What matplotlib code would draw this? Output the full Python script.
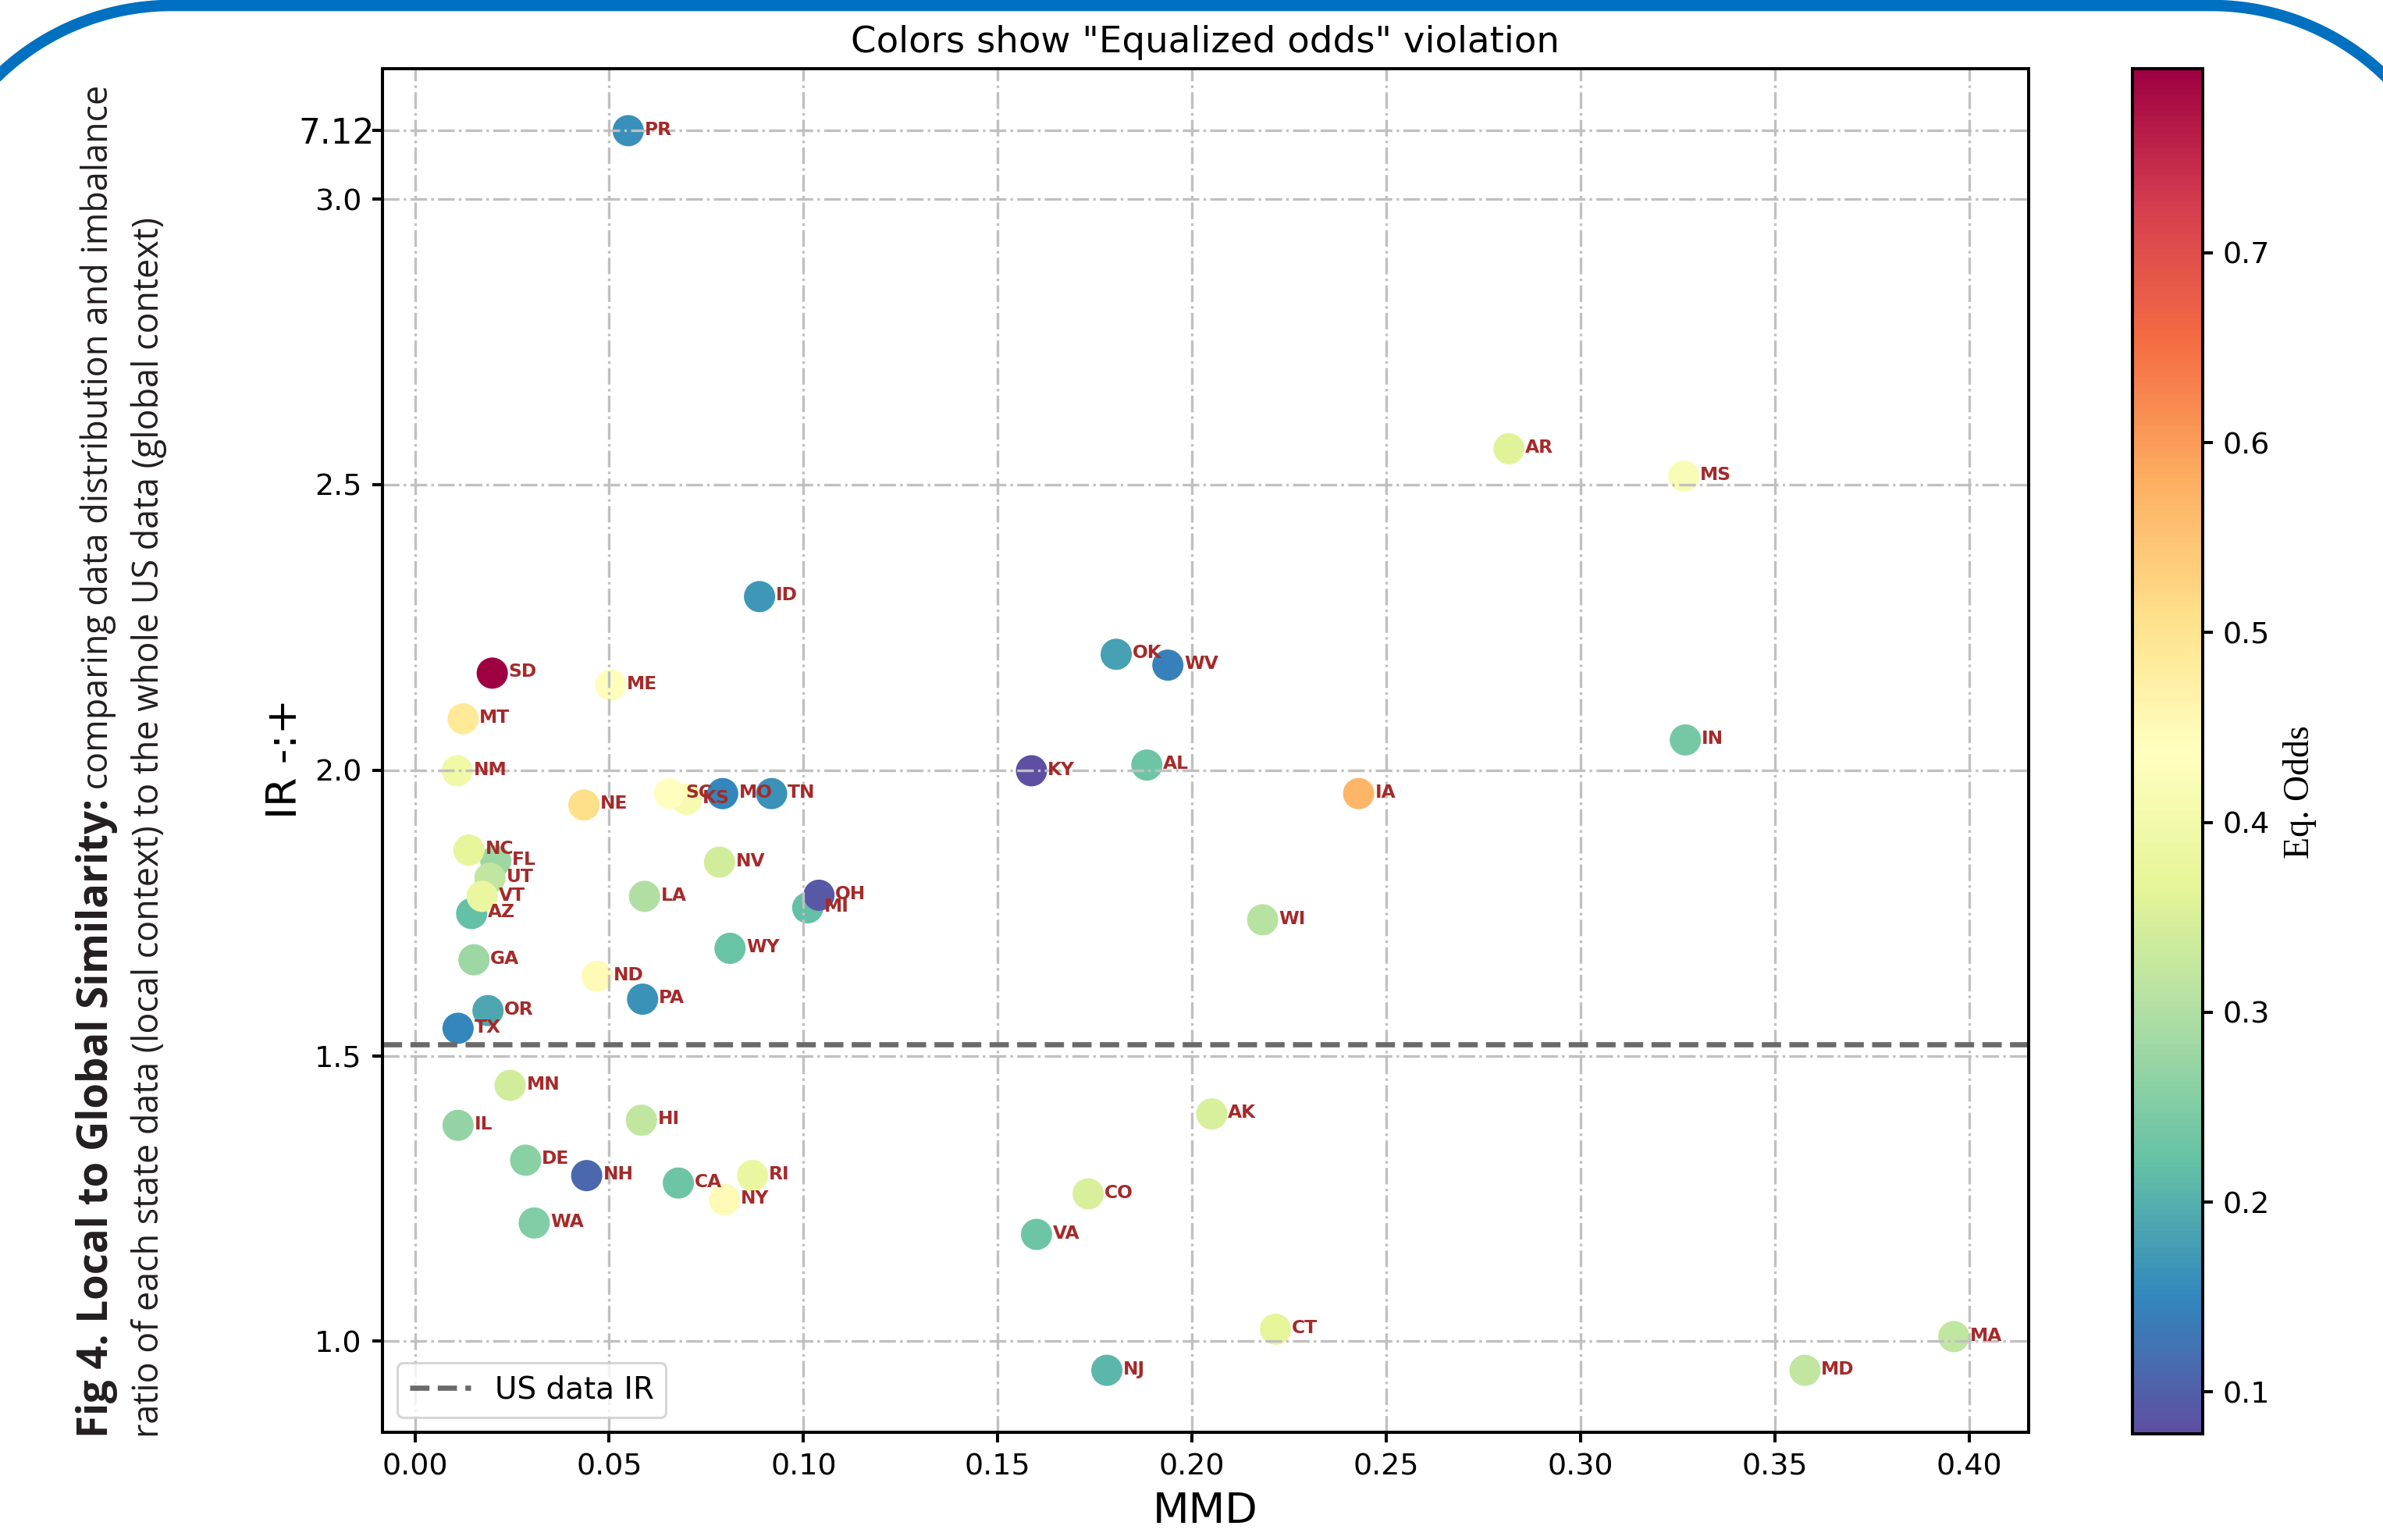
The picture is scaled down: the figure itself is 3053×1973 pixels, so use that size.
import numpy as np
import matplotlib
matplotlib.use("Agg")
import matplotlib.pyplot as plt
from matplotlib.lines import Line2D
from matplotlib.transforms import IdentityTransform

# ---------------- data ----------------
states = ["AL", "AK", "AZ", "AR", "CA", "CO", "CT", "DE", "FL", "GA", "HI", "ID", "IL",
          "IN", "IA", "KS", "KY", "LA", "ME", "MD", "MA", "MI", "MN", "MS", "MO", "MT",
          "NE", "NV", "NH", "NJ", "NM", "NY", "NC", "ND", "OH", "OK", "OR", "PA", "RI",
          "SC", "SD", "TN", "TX", "UT", "VT", "VA", "WA", "WV", "WI", "WY", "PR"]
mmd = [0.1884, 0.2051, 0.0146, 0.2816, 0.0678, 0.1733, 0.2215, 0.0285, 0.0208, 0.0152,
       0.0583, 0.0887, 0.0111, 0.3270, 0.2429, 0.0699, 0.1587, 0.0591, 0.0504, 0.3578,
       0.3961, 0.1011, 0.0245, 0.3266, 0.0792, 0.0124, 0.0435, 0.0784, 0.0442, 0.1781,
       0.0109, 0.0797, 0.0139, 0.0469, 0.1040, 0.1805, 0.0188, 0.0586, 0.0869, 0.0655,
       0.0199, 0.0918, 0.0111, 0.0193, 0.0173, 0.1600, 0.0307, 0.1938, 0.2182, 0.0811,
       0.0549]
ir = [2.009, 1.398, 1.749, 2.563, 1.277, 1.258, 1.021, 1.317, 1.841, 1.668,
      1.387, 2.304, 1.378, 2.053, 1.959, 1.949, 1.999, 1.779, 2.149, 0.949,
      1.008, 1.759, 1.448, 2.515, 1.959, 2.090, 1.939, 1.839, 1.290, 0.949,
      1.999, 1.248, 1.860, 1.639, 1.781, 2.203, 1.579, 1.599, 1.290, 1.959,
      2.170, 1.959, 1.548, 1.811, 1.779, 1.187, 1.207, 2.184, 1.738, 1.688,
      7.12]
eq_odds = [0.23, 0.35, 0.22, 0.36, 0.23, 0.35, 0.37, 0.26, 0.28, 0.28,
           0.32, 0.17, 0.27, 0.24, 0.57, 0.41, 0.078, 0.30, 0.43, 0.32,
           0.32, 0.22, 0.34, 0.42, 0.15, 0.49, 0.51, 0.34, 0.11, 0.21,
           0.39, 0.45, 0.37, 0.45, 0.09, 0.18, 0.19, 0.165, 0.38, 0.44,
           0.797, 0.165, 0.15, 0.32, 0.38, 0.23, 0.25, 0.14, 0.31, 0.225,
           0.16]
us_ir = 1.52
x_ticks = [0.00, 0.05, 0.10, 0.15, 0.20, 0.25, 0.30, 0.35, 0.40]
y_ticks = [1.0, 1.5, 2.0, 2.5, 3.0, 7.12]
y_tick_labels = ["1.0", "1.5", "2.0", "2.5", "3.0", "7.12"]
cbar_ticks = [0.1, 0.2, 0.3, 0.4, 0.5, 0.6, 0.7]

title = 'Colors show "Equalized odds" violation'
caption_bold = "Fig 4. Local to Global Similarity:"
caption_rest1 = " comparing data distribution and imbalance"
caption_line2 = "ratio of each state data (local context) to the whole US data (global context)"

# ---------------- figure ----------------
W, H = 3053, 1973
DPI = 100
fig = plt.figure(figsize=(W / DPI, H / DPI), dpi=DPI)
fig.patch.set_facecolor("white")

# broken y scale: values above 3 are compressed
BREAK = 3.0
COMP = 0.12 / 4.12


def fwd(y):
    y = np.asarray(y, dtype=float)
    return np.where(y <= BREAK, y, BREAK + (y - BREAK) * COMP)


def inv(t):
    t = np.asarray(t, dtype=float)
    return np.where(t <= BREAK, t, BREAK + (t - BREAK) / COMP)


ax = fig.add_axes([490 / W, 1 - 1835 / H, (2599 - 490) / W, (1835 - 88) / H])
ax.set_yscale("function", functions=(fwd, inv))

TICK_FS = 27.4
sc = ax.scatter(mmd, ir, c=eq_odds, cmap="Spectral_r", s=830, linewidths=0, zorder=1)
for s, x, y in zip(states, mmd, ir):
    ax.annotate(s, (x, y), xytext=(15, 1), textcoords="offset points",
                ha="left", va="center", fontsize=16.8, fontweight="bold",
                color="#a52a2a", zorder=3)

ax.axhline(us_ir, color="#6a6a6a", linestyle="--", linewidth=4.8, label="US data IR", zorder=2)

ax.set_xticks(x_ticks)
ax.set_yticks(y_ticks)
ax.set_yticklabels(y_tick_labels)
ax.minorticks_off()
ax.grid(True, color="#c0c0c0", linestyle="-.", linewidth=2.4)
ax.tick_params(labelsize=TICK_FS, length=9.4, width=2.9, pad=9.5)
for sp in ax.spines.values():
    sp.set_linewidth(2.9)
# the broken-axis label is drawn larger and closer to the axis
top_tick = ax.yaxis.get_major_ticks()[-1]
top_tick.label1.set_fontsize(31.5)
top_tick.set_pad(-2)

ax.set_title(title, fontsize=33.6, pad=15)
ax.set_xlabel("MMD", fontsize=39, labelpad=9)
ax.set_ylabel("IR -:+", fontsize=39)
ax.yaxis.set_label_coords(-0.047, 0.494)

leg = ax.legend(loc="lower left", fontsize=28)
leg.get_frame().set_linewidth(2.2)

# colorbar
cax = fig.add_axes([2732 / W, 1 - 1837 / H, 90 / W, (1837 - 88) / H])
cbar = fig.colorbar(sc, cax=cax)
cbar.set_ticks(cbar_ticks)
cbar.ax.tick_params(labelsize=TICK_FS, length=9.0, width=2.9, pad=9.5)
cbar.outline.set_linewidth(2.9)
fig.text(2947 / W, 1 - 1015 / H, "Eq. Odds", rotation=90, ha="center", va="center",
         fontsize=33, family=["Liberation Serif", "DejaVu Serif"])

# caption on the left, rotated
cap_fs = 32.3
cap_bold_fs = 38.0
t1 = fig.text(138 / W, 131 / H, caption_bold, rotation=90, rotation_mode="anchor",
              ha="left", va="baseline", fontsize=cap_bold_fs, fontweight="bold",
              family=["Open Sans", "DejaVu Sans"], color="#231f20")
fig.text(203 / W, 131 / H, caption_line2, rotation=90, rotation_mode="anchor",
         ha="left", va="baseline", fontsize=cap_fs,
         family=["Open Sans", "DejaVu Sans"], color="#231f20")
fig.canvas.draw()
bb = t1.get_window_extent(fig.canvas.get_renderer())
fig.text(138 / W, bb.y1 / H, caption_rest1, rotation=90, rotation_mode="anchor",
         ha="left", va="baseline", fontsize=cap_fs,
         family=["Open Sans", "DejaVu Sans"], color="#231f20")

# blue rounded frame (pixel coordinates, origin bottom-left)
R = 320.0
xl, xr = -100.0, W + 100.0
yt, yb = H - 7.0, -200.0
a1 = np.linspace(np.pi, np.pi / 2, 60)
a2 = np.linspace(np.pi / 2, 0, 60)
fx = np.concatenate([[xl], xl + R + R * np.cos(a1), xr - R + R * np.cos(a2), [xr]])
fy = np.concatenate([[yb], yt - R + R * np.sin(a1), yt - R + R * np.sin(a2), [yb]])
frame = Line2D(fx, fy, transform=IdentityTransform(), color="#0070c0",
               linewidth=10.5, solid_joinstyle="round")
fig.add_artist(frame)

fig.savefig("out.png", dpi=DPI, facecolor="white")
